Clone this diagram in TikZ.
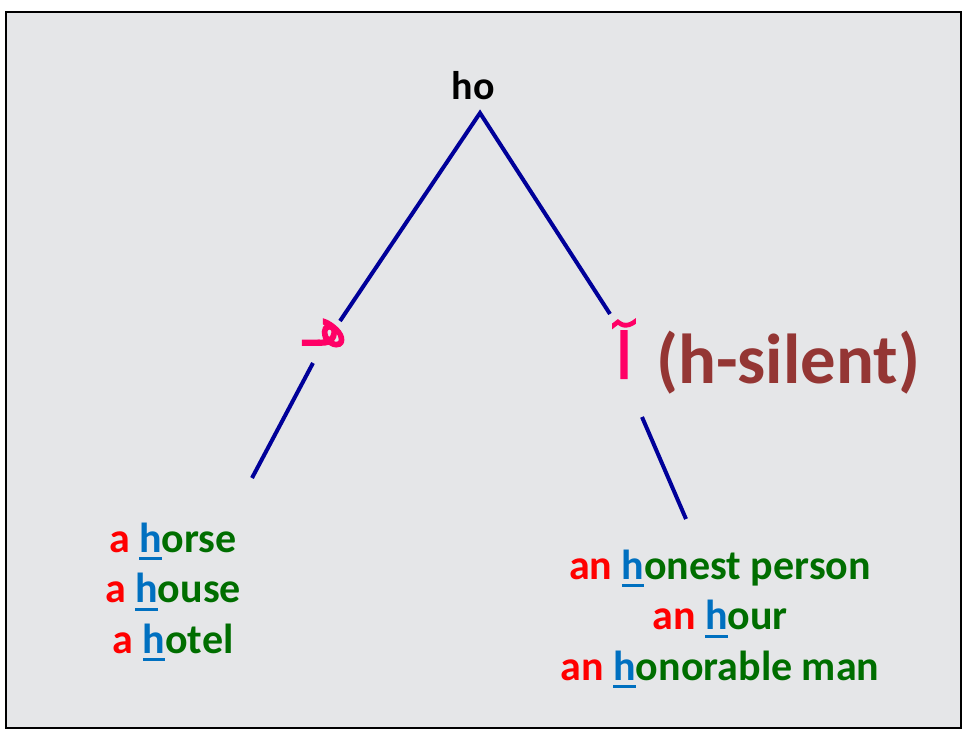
\documentclass[tikz,border=0pt]{standalone}
\usepackage{fontspec}
\setmainfont{Carlito}
\newfontfamily\arabicfont[Script=Arabic,FakeBold=2.5]{DejaVu Sans}
\TeXXeTstate=1
\definecolor{lineblue}{RGB}{0,0,153}
\definecolor{artred}{RGB}{255,0,0}
\definecolor{hblue}{RGB}{0,112,192}
\definecolor{restgreen}{RGB}{0,110,0}
\definecolor{arpink}{RGB}{255,0,102}
\definecolor{silentbrown}{RGB}{148,54,52}
\definecolor{marble}{RGB}{229,230,232}
\newcommand{\art}[1]{\textcolor{artred}{#1}}
\newcommand{\rest}[1]{\textcolor{restgreen}{#1}}
\newcommand{\hh}{\textcolor{hblue}{\setbox0\hbox{h}\rlap{\rule[-6pt]{\wd0}{2.4pt}}\box0}}
\tikzset{
branch/.style={draw=lineblue, line width=3pt},
wordlist/.style={align=center, inner sep=0pt, font=\fontsize{31.5}{38}\selectfont\bfseries},
arabic/.style={text=arpink, inner sep=0pt}
}
\begin{document}
\begin{tikzpicture}[x=0.75pt,y=-0.75pt]
\useasboundingbox (0,0) rectangle (967,731);
\fill[marble] (6,12) rectangle (961,728);
\draw[line width=1.9pt] (6,12) rectangle (961,728);
\node[anchor=base, font=\fontsize{30}{36}\selectfont\bfseries] (ho) at (473,100) {ho};
\coordinate (apex) at (480,113);
\coordinate (lup) at (340,321);
\coordinate (llow) at (313,363);
\coordinate (lend) at (252,478);
\coordinate (rup) at (610,314);
\coordinate (rlow) at (642,417);
\coordinate (rend) at (686,519);
\draw[branch] (lup) -- (apex) -- (rup);
\draw[branch] (llow) -- (lend);
\draw[branch] (rlow) -- (rend);
\node[arabic, font=\fontsize{40}{48}\selectfont] (he) at (325,333) {\arabicfont\beginR هـ\endR};
\node[arabic, font=\fontsize{47}{56}\selectfont] (alef) at (624,349) {\arabicfont\beginR آ\endR};
\node[anchor=base, text=silentbrown, font=\fontsize{53}{60}\selectfont\bfseries] (silent) at (788,383) {(h-silent)};
\node[wordlist] (alist) at (173,592) {\art{a} \hh\rest{orse}\\ \art{a} \hh\rest{ouse}\\ \art{a} \hh\rest{otel}};
\node[wordlist] (anlist) at (720,619) {\art{an} \hh\rest{onest person}\\ \art{an} \hh\rest{our}\\ \art{an} \hh\rest{onorable man}};
\end{tikzpicture}
\end{document}
